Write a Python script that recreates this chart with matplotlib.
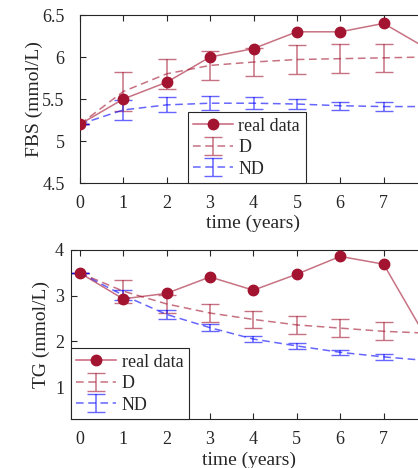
import numpy as np
import matplotlib
matplotlib.use('Agg')
import matplotlib.pyplot as plt
from matplotlib.ticker import FuncFormatter

plt.rcParams['font.family'] = ['Liberation Serif', 'DejaVu Serif']
plt.rcParams['text.color'] = '#262626'
plt.rcParams['axes.labelcolor'] = '#262626'
plt.rcParams['xtick.color'] = '#262626'
plt.rcParams['ytick.color'] = '#262626'

## DATA
years_real = [0, 1, 2, 3, 4, 5, 6, 7, 8]
years_mod = [0, 1, 2, 3, 4, 5, 6, 7, 8]

fbs_real = [5.2, 5.5, 5.7, 6.0, 6.1, 6.3, 6.3, 6.4, 6.1]
fbs_d = [5.2, 5.59, 5.80, 5.90, 5.94, 5.97, 5.98, 5.99, 6.0]
fbs_d_err = [0.0, 0.23, 0.18, 0.17, 0.17, 0.17, 0.17, 0.17, 0.17]
fbs_nd = [5.2, 5.37, 5.43, 5.45, 5.45, 5.44, 5.42, 5.41, 5.41]
fbs_nd_err = [0.0, 0.12, 0.09, 0.08, 0.07, 0.06, 0.05, 0.05, 0.05]

tg_real = [3.5, 2.93, 3.05, 3.41, 3.12, 3.47, 3.86, 3.69, 2.05]
tg_d = [3.5, 3.10, 2.82, 2.62, 2.48, 2.36, 2.29, 2.22, 2.18]
tg_d_err = [0.0, 0.25, 0.20, 0.20, 0.19, 0.19, 0.19, 0.20, 0.20]
tg_nd = [3.5, 3.01, 2.59, 2.30, 2.05, 1.90, 1.76, 1.66, 1.58]
tg_nd_err = [0.0, 0.11, 0.09, 0.08, 0.07, 0.06, 0.06, 0.06, 0.05]

x_ticks = [0, 1, 2, 3, 4, 5, 6, 7, 8]
x_ticklabels = ['0', '1', '2', '3', '4', '5', '6', '7', '']

red = '#A2142F'
blue = '#0000FF'
dash = (0, (5, 3))

fig = plt.figure(figsize=(4.18, 4.68), dpi=100)
ax1 = fig.add_axes([80/418, (468-183)/468, 347/418, 168/468])
ax2 = fig.add_axes([71/418, (468-419)/468, 356/418, 169/468])

panels = [
    (ax1, fbs_real, fbs_d, fbs_d_err, fbs_nd, fbs_nd_err, 'FBS (mmol/L)',
     (4.5, 6.5), [4.5, 5, 5.5, 6, 6.5], (0, 8), (0.311, 0.0), 11, -0.107, -0.19),
    (ax2, tg_real, tg_d, tg_d_err, tg_nd, tg_nd_err, 'TG (mmol/L)',
     (0.3, 4), [1, 2, 3, 4], (-0.2, 8), (0.0, 0.0), 5, -0.059, -0.195),
]

for ax, real, d, d_err, nd, nd_err, ylab, ylim, yt, xlim, leg_pos, ypad, ylx, xly in panels:
    ax.plot(years_real, real, '-', color=red, alpha=0.6, lw=1.1, zorder=3)
    ax.plot(years_real, real, 'o', color=red, ms=7.5, zorder=4)
    # proxy for legend
    h_real, = ax.plot([], [], '-o', color='#C9627A', ms=7.5, mfc=red, mec=red,
                      lw=1.1, label='real data')
    ax.errorbar(years_mod, d, yerr=d_err, color=red, alpha=0.6, lw=1.1,
                ls=dash, capsize=6.5, elinewidth=1.1, label='D', zorder=2)
    ax.errorbar(years_mod, nd, yerr=nd_err, color=blue, alpha=0.6, lw=1.1,
                ls=dash, capsize=6.5, elinewidth=1.1, label='ND', zorder=2)

    ax.set_xlim(*xlim)
    ax.set_ylim(*ylim)
    ax.set_xticks(x_ticks, x_ticklabels)
    ax.set_yticks(yt)
    ax.yaxis.set_major_formatter(FuncFormatter(lambda v, p: f'{v:g}'))
    ax.tick_params(direction='in', length=4, width=0.8, top=True, right=True,
                   labelsize=13)
    ax.tick_params(axis='x', pad=9)
    ax.tick_params(axis='y', pad=ypad)
    for s in ax.spines.values():
        s.set_color('#262626')
        s.set_linewidth(0.8)
    ax.set_xlabel('time (years)', fontsize=14)
    ax.set_ylabel(ylab, fontsize=14)
    ax.xaxis.set_label_coords(0.5, xly)
    ax.yaxis.set_label_coords(ylx, 0.5)

    leg = ax.legend(handles=[h_real] + ax.get_legend_handles_labels()[0][1:],
                    loc='lower left', bbox_to_anchor=leg_pos, borderaxespad=0,
                    fontsize=13, fancybox=False, framealpha=1, edgecolor='#262626',
                    handlelength=2.2, handletextpad=0.3, borderpad=0.3,
                    labelspacing=0.25)
    leg.get_frame().set_linewidth(0.8)

fig.savefig('out.png', dpi=100)
